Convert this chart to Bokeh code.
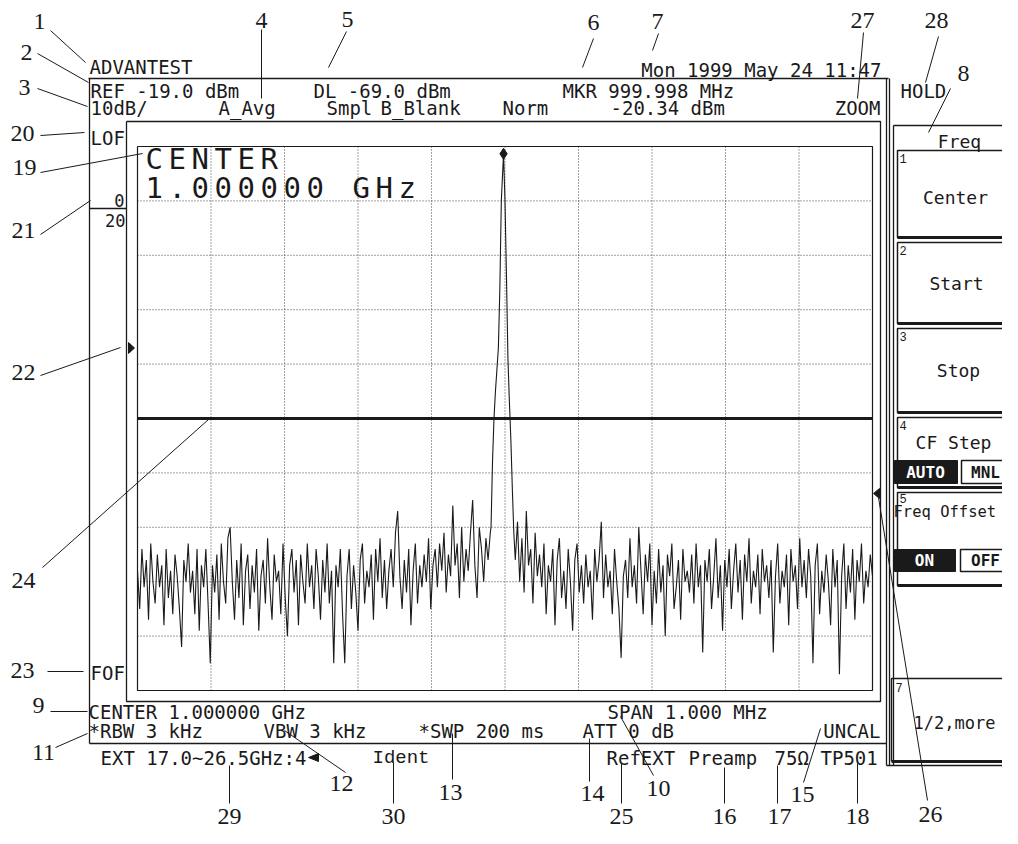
import numpy as np
from bokeh.plotting import figure
from bokeh.models import Range1d, ColumnDataSource
from bokeh.core.properties import value
from bokeh.embed import file_html
from bokeh.resources import INLINE

# ---------------- instrument data ----------------
center_mhz = 1000.0
span_mhz = 1.0
ref_dbm = -19.0
db_per_div = 10.0
display_line_dbm = -69.0
marker_mhz = 999.998
marker_dbm = -20.34
sweep_step_mhz = 0.003

freq_ticks = [999.5, 999.6, 999.7, 999.8, 999.9, 1000.0, 1000.1, 1000.2, 1000.3, 1000.4, 1000.5]
level_ticks = [-19, -29, -39, -49, -59, -69, -79, -89, -99, -109, -119]

noise_left_start_mhz = 999.500
noise_left_dbm = [
    -97, -104, -93, -100, -95, -106, -92, -99, -103, -94,
    -100, -96, -107, -93, -102, -97, -105, -94, -98, -104,
    -111, -95, -99, -92, -101, -97, -105, -93, -108, -96,
    -100, -93, -103, -114, -96, -101, -94, -106, -92, -99,
    -103, -91, -89, -99, -106, -95, -102, -92, -107, -97,
    -94, -104, -96, -101, -93, -108, -98, -95, -103, -91,
    -100, -106, -94, -99, -97, -105, -92, -102, -109, -96,
    -93, -101, -95, -107, -94, -99, -103, -92, -100, -96,
    -104, -93, -98, -106, -95, -101, -92, -103, -97, -114,
    -96, -100, -93, -105, -114, -98, -93, -104, -96, -101,
    -108, -95, -92, -103, -97, -100, -94, -106, -93, -99,
    -91, -102, -95, -104, -97, -93, -100, -90, -86, -98,
    -104, -95, -101, -93, -107, -97, -92, -103, -96, -100,
    -94, -99, -91, -104, -96, -93, -100, -92, -97, -90,
    -101, -94, -98, -85, -96, -92, -102, -89, -99, -93,
    -97, -90, -84, -96, -102, -89, -93, -99, -91, -95,
    -90,
]

peak_offset_khz = [-19, -17, -15, -13, -11, -9, -7, -5, -2, 0, 2, 4, 6, 8, 10, 12]
peak_dbm = [-89, -77, -69, -64, -60, -56, -45, -29, -20.34, -29, -43, -58, -66, -73, -82, -90]

noise_right_start_mhz = 1000.014
noise_right_dbm = [
    -95, -88, -99, -91, -101, -86, -96, -93, -103, -90,
    -98, -94, -100, -92, -105, -96, -99, -93, -107, -95,
    -91, -102, -97, -104, -93, -99, -108, -95, -92, -101,
    -96, -103, -94, -100, -97, -106, -93, -99, -95, -88,
    -102, -94, -100, -97, -105, -93, -99, -104, -113, -98,
    -95, -102, -91, -100, -96, -103, -89, -97, -105, -94,
    -99, -92, -107, -97, -103, -93, -101, -96, -109, -94,
    -98, -92, -104, -100, -95, -106, -93, -99, -97, -101,
    -94, -103, -92, -100, -96, -112, -95, -99, -93, -104,
    -98, -91, -102, -96, -108, -95, -100, -93, -104, -97,
    -92, -101, -95, -106, -94, -99, -91, -103, -97, -100,
    -94, -105, -93, -99, -96, -102, -95, -112, -98, -92,
    -103, -97, -100, -94, -107, -93, -99, -96, -104, -91,
    -100, -95, -102, -93, -98, -114, -96, -92, -105, -97,
    -101, -94, -99, -107, -93, -100, -95, -116, -98, -92,
    -104, -96, -101, -93, -106, -95, -99, -92, -103, -97,
    -100, -94, -98,
]

# ---------------- layout (reference pixel frame) ----------------
W, H = 1002, 828
X0, X1, Y0, Y1 = 0, W, 0, H
GRID_L, GRID_R, GRID_T, GRID_B = 137, 872, 146, 690

f_lo = center_mhz - span_mhz / 2
f_hi = center_mhz + span_mhz / 2
lvl_top = ref_dbm
lvl_bot = ref_dbm - 10 * db_per_div
px_per_mhz = (GRID_R - GRID_L) / (f_hi - f_lo)
px_per_db = (GRID_B - GRID_T) / (lvl_top - lvl_bot)

p = figure(width=W, height=H, x_range=Range1d(X0, X1), y_range=Range1d(Y1, Y0),
           min_border=0, toolbar_location=None, output_backend="svg",
           x_axis_type=None, y_axis_type=None, outline_line_color=None,
           background_fill_color="white", border_fill_color="white")
p.extra_x_ranges = {"freq": Range1d(f_lo - (GRID_L - X0) / px_per_mhz,
                                    f_hi + (X1 - GRID_R) / px_per_mhz)}
p.extra_y_ranges = {"dbm": Range1d(lvl_bot - (Y1 - GRID_B) / px_per_db,
                                   lvl_top + (GRID_T - Y0) / px_per_db)}
D = dict(x_range_name="freq", y_range_name="dbm")

INK = "#1a1a1a"

# ---------------- graticule ----------------
inner_f = freq_ticks[1:-1]
inner_l = level_ticks[1:-1]
p.segment(x0=inner_f, y0=[lvl_bot] * len(inner_f), x1=inner_f, y1=[lvl_top] * len(inner_f),
          line_color="#444", line_width=1, line_dash="1 2", **D)
p.segment(x0=[f_lo] * len(inner_l), y0=inner_l, x1=[f_hi] * len(inner_l), y1=inner_l,
          line_color="#444", line_width=1, line_dash="1 2", **D)
p.line([f_lo, f_hi, f_hi, f_lo, f_lo], [lvl_top, lvl_top, lvl_bot, lvl_bot, lvl_top],
       line_color=INK, line_width=1.2, **D)
# display line
p.line([f_lo, f_hi], [display_line_dbm, display_line_dbm], line_color=INK, line_width=3, **D)

# ---------------- trace ----------------
left_f = [noise_left_start_mhz + sweep_step_mhz * i for i in range(len(noise_left_dbm))]
peak_f = [center_mhz + k / 1000.0 for k in peak_offset_khz]
right_f = [noise_right_start_mhz + sweep_step_mhz * i for i in range(len(noise_right_dbm))]
trace_f = left_f + peak_f + right_f
trace_l = noise_left_dbm + peak_dbm + noise_right_dbm
p.line(trace_f, trace_l, line_color=INK, line_width=1.1, **D)
p.scatter([marker_mhz], [marker_dbm], marker="diamond", size=11, fill_color=INK,
          line_color=INK, **D)

# ---------------- screen frames ----------------
frame_lines = [
    ([88, 888], [78, 78]),
    ([89, 89], [78, 743]),
    ([89, 886], [743, 743]),
    ([886, 886], [78, 765]),
    ([889, 889], [78, 765]),
    ([886, 1010], [765, 765]),
    ([126, 880, 880, 126, 126], [121, 121, 701, 701, 121]),
    ([89, 126], [208, 208]),
    # soft key panel
    ([893, 893], [125, 765]),
    ([893, 1010], [125, 125]),
]
p.multi_line([a for a, b in frame_lines], [b for a, b in frame_lines],
             line_color=INK, line_width=1.3)

keys = [(150, 237), (242, 323), (328, 412), (417, 487), (492, 585)]
for y0, y1 in keys:
    p.line([1012, 897, 897, 1012], [y0, y0, y1, y1], line_color=INK, line_width=1.5)
    p.line([897, 1012], [y1, y1], line_color=INK, line_width=3)
p.line([891, 891, 1003, 1016], [761, 678, 678, 692], line_color=INK, line_width=1.5)
p.line([1006, 1016], [676, 687], line_color=INK, line_width=1)
p.line([891, 1012], [761, 761], line_color=INK, line_width=3)

# triangles (level / marker pointers)
p.patches([[128, 134, 128], [879, 873, 879]], [[342, 347.5, 353], [488, 493, 498]],
          fill_color=INK, line_color=INK)

# ---------------- texts ----------------
def texts(items, size, font="DejaVu Sans Mono", align="left", color=INK, style="normal"):
    src = ColumnDataSource(dict(x=[i[1] for i in items], y=[i[2] for i in items],
                                t=[i[0] for i in items]))
    p.text("x", "y", "t", source=src, text_font=value(font),
           text_font_size=value(f"{size}px"), text_align=align,
           text_baseline="middle", text_color=color, text_font_style=style)

texts([
    ("ADVANTEST", 89, 66),
    ("REF -19.0 dBm", 90, 90), ("DL -69.0 dBm", 313, 90), ("MKR 999.998 MHz", 562, 90),
    ("10dB/", 90, 107), ("A_Avg", 218, 107), ("Smpl", 326, 107), ("B_Blank", 380, 107),
    ("Norm", 502, 107), ("-20.34 dBm", 610, 107),
    ("LOF", 90, 137), ("FOF", 90, 672),
    ("CENTER 1.000000 GHz", 88, 711), ("SPAN 1.000 MHz", 607, 711),
    ("*RBW 3 kHz", 88, 730), ("VBW 3 kHz", 263, 730), ("*SWP 200 ms", 418, 730),
    ("ATT 0 dB", 582, 730),
    ("EXT 17.0~26.5GHz:4", 100, 757), ("RefEXT", 606, 757), ("Preamp", 688, 757),
    ("75Ω", 774, 757), ("TP501", 820, 757),
    ("HOLD", 900, 90),
], 19)
texts([("Mon 1999 May 24 11:47", 881, 69), ("ZOOM", 880, 107), ("UNCAL", 880, 730)], 19,
      align="right")
texts([("Ident", 372, 757)], 19, font="Liberation Mono")
texts([("0", 124, 200), ("20", 125, 220)], 17, align="right")

# big center-frequency readout, fixed pitch
big = []
for s, x0, y in [("CENTER", 145, 158), ("1.000000 GHz", 145, 187)]:
    for i, ch in enumerate(s):
        if ch != " ":
            big.append((ch, x0 + 23 * i, y))
texts(big, 29)

# soft keys
texts([("Freq", 959, 141), ("Center", 955, 197), ("Start", 956, 283), ("Stop", 958, 370),
       ("CF Step", 953, 442)], 18, align="center")
texts([("1/2,more", 954, 722)], 17, align="center")
texts([("Freq Offset", 893, 511)], 15.5)
texts([("1", 899, 158), ("2", 899, 250), ("3", 899, 336), ("4", 899, 425), ("5", 899, 498),
       ("7", 895, 687)], 12, font="Liberation Mono")
p.quad(left=[894, 894], right=[957, 955], top=[460, 549], bottom=[483, 571],
       fill_color=INK, line_color=INK)
p.quad(left=[961, 960], right=[1016, 1016], top=[460, 549], bottom=[483, 571],
       fill_color="white", line_color=INK, line_width=1.5)
texts([("AUTO", 925, 472), ("ON", 924, 560)], 16, align="center", color="white", style="bold")
texts([("MNL", 985, 472), ("OFF", 985, 560)], 16, align="center", style="bold")

# ---------------- callouts ----------------
callouts = [
    ("1", 39, 21, 50, 30, 85, 62), ("2", 26, 52, 37, 53, 88, 82),
    ("3", 24, 87, 37, 88, 87, 106), ("20", 22, 133, 40, 135, 84, 132),
    ("19", 24, 167, 40, 172, 142, 153), ("21", 23, 230, 40, 234, 90, 200),
    ("22", 23, 372, 40, 375, 120, 347), ("24", 23, 580, 42, 567, 208, 419),
    ("23", 22, 670, 47, 671, 83, 671), ("9", 38, 705, 50, 711, 87, 711),
    ("11", 43, 752, 55, 747, 87, 733), ("4", 261, 20, 261, 29, 261, 98),
    ("5", 347, 19, 346, 31, 328, 67), ("6", 593, 22, 593, 38, 582, 67),
    ("7", 657, 21, 658, 33, 652, 50), ("27", 862, 20, 863, 32, 857, 98),
    ("28", 936, 20, 938, 36, 925, 82), ("8", 963, 73, 950, 88, 928, 132),
    ("12", 341, 783, 345, 772, 284, 730), ("13", 450, 792, 452, 779, 452, 733),
    ("29", 229, 816, 229, 765, 229, 803), ("30", 393, 816, 393, 762, 393, 803),
    ("14", 592, 793, 589, 738, 589, 781), ("10", 658, 788, 653, 775, 620, 716),
    ("25", 621, 816, 621, 763, 621, 803), ("16", 724, 816, 724, 767, 724, 803),
    ("17", 779, 816, 777, 765, 777, 803), ("15", 802, 794, 803, 782, 820, 728),
    ("18", 857, 816, 857, 763, 857, 803), ("26", 930, 814, 927, 800, 878, 497),
]
p.segment(x0=[c[3] for c in callouts], y0=[c[4] for c in callouts],
          x1=[c[5] for c in callouts], y1=[c[6] for c in callouts],
          line_color=INK, line_width=1)
p.patches([[308, 318, 318]], [[757, 753, 761]], fill_color=INK, line_color=INK)
texts([(c[0], c[1], c[2]) for c in callouts], 24, font="Liberation Serif", align="center")

open("out.html", "w").write(file_html(p, INLINE))
